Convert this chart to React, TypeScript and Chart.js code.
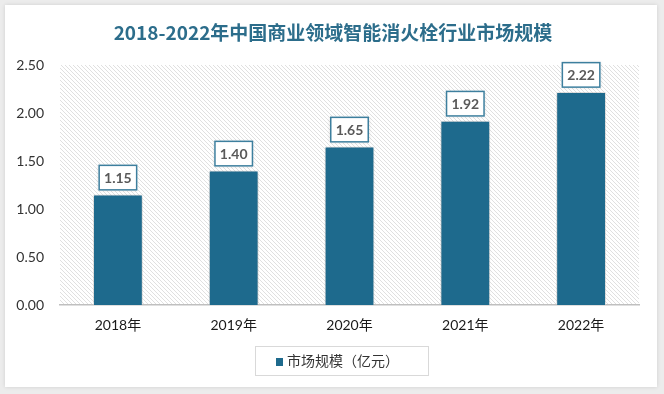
import React, { useEffect, useRef } from "react";
import { Chart, registerables } from "chart.js";

Chart.register(...registerables);

const categories = ["2018年", "2019年", "2020年", "2021年", "2022年"];
const marketSize = [1.15, 1.4, 1.65, 1.92, 2.22];
const yTicks = [0, 0.5, 1, 1.5, 2, 2.5];
const titleText = "2018-2022年中国商业领域智能消火栓行业市场规模";
const seriesName = "市场规模（亿元）";

const BAR_COLOR = "#1e6a8d";
const LATIN = "Lato, 'Noto Sans CJK SC', sans-serif";
const CJK = "'Noto Sans CJK SC', sans-serif";

function makePattern(ctx: CanvasRenderingContext2D) {
  const c = document.createElement("canvas");
  c.width = 4;
  c.height = 4;
  const p = c.getContext("2d")!;
  p.fillStyle = "#ffffff";
  p.fillRect(0, 0, 4, 4);
  p.fillStyle = "#e0e0e0";
  for (let i = 0; i < 4; i++) p.fillRect(i, i, 1, 1);
  return ctx.createPattern(c, "repeat");
}

const decorPlugin = {
  id: "decor",
  beforeDraw(chart: any) {
    const { ctx, chartArea } = chart;
    ctx.save();
    const pat = makePattern(ctx);
    if (pat) ctx.fillStyle = pat;
    ctx.fillRect(chartArea.left, chartArea.top, chartArea.right - chartArea.left, chartArea.bottom - chartArea.top);
    ctx.restore();
    // title
    ctx.save();
    ctx.font = `bold 19px ${CJK}`;
    ctx.fillStyle = "#2c6d8b";
    ctx.textAlign = "center";
    ctx.textBaseline = "middle";
    ctx.fillText(titleText, 333, 33);
    ctx.restore();
  },
  beforeDatasetsDraw(chart: any) {
    const ctx = chart.ctx;
    ctx.save();
    ctx.shadowColor = "rgba(0,0,0,0.28)";
    ctx.shadowBlur = 4;
    ctx.shadowOffsetX = 0;
    ctx.shadowOffsetY = 0;
  },
  afterDatasetsDraw(chart: any) {
    const ctx = chart.ctx;
    ctx.restore();
    const meta = chart.getDatasetMeta(0);
    const data = chart.data.datasets[0].data;
    meta.data.forEach((bar: any, i: number) => {
      const w = 39;
      const h = 26;
      const x = bar.x - w / 2;
      const y = bar.y - 4 - h;
      ctx.save();
      ctx.shadowColor = "rgba(0,0,0,0.15)";
      ctx.shadowBlur = 3;
      ctx.fillStyle = "#ffffff";
      ctx.fillRect(x, y, w, h);
      ctx.shadowColor = "transparent";
      ctx.strokeStyle = "#3d7f9e";
      ctx.lineWidth = 1.5;
      ctx.strokeRect(x + 0.75, y + 0.75, w - 1.5, h - 1.5);
      ctx.fillStyle = "#595959";
      ctx.font = `bold 14px ${LATIN}`;
      ctx.textAlign = "center";
      ctx.textBaseline = "middle";
      ctx.fillText(Number(data[i]).toFixed(2), bar.x, y + h / 2 + 1);
      ctx.restore();
    });
  },
  afterDraw(chart: any) {
    const ctx = chart.ctx;
    ctx.save();
    // legend box
    ctx.fillStyle = "#ffffff";
    ctx.fillRect(255, 346, 174, 30);
    ctx.strokeStyle = "#d9d9d9";
    ctx.lineWidth = 1;
    ctx.strokeRect(255.5, 346.5, 173, 29);
    ctx.fillStyle = BAR_COLOR;
    ctx.fillRect(276, 358, 7, 8);
    ctx.fillStyle = "#333333";
    ctx.font = `14px ${CJK}`;
    ctx.textAlign = "left";
    ctx.textBaseline = "middle";
    ctx.fillText(seriesName, 287, 361);
    ctx.restore();
  },
};

export default function App() {
  const ref = useRef<HTMLCanvasElement | null>(null);
  useEffect(() => {
    document.body.style.margin = "0";
    const chart = new Chart(ref.current!, {
      type: "bar",
      data: {
        labels: categories,
        datasets: [
          {
            label: seriesName,
            data: marketSize,
            backgroundColor: BAR_COLOR,
            borderColor: "rgba(255,255,255,0.35)",
            borderWidth: 1,
            barPercentage: 0.43,
            categoryPercentage: 1,
          },
        ],
      },
      options: {
        responsive: false,
        animation: false,
        layout: { padding: { top: 65, right: 25, left: 0, bottom: 0 } },
        plugins: {
          legend: { display: false },
          title: { display: false },
          tooltip: { enabled: false },
        },
        scales: {
          x: {
            grid: { display: false, drawTicks: false },
            border: { display: true, color: "#bfbfbf", width: 1.5 },
            ticks: {
              padding: 12,
              color: "#1a1a1a",
              font: { size: 14, family: LATIN },
            },
            afterFit(scale: any) {
              scale.height = 89;
            },
          },
          y: {
            min: 0,
            max: 2.5,
            afterBuildTicks(scale: any) {
              scale.ticks = yTicks.map((v) => ({ value: v }));
            },
            grid: { display: false, drawTicks: false },
            border: { display: false },
            ticks: {
              padding: 16,
              color: "#333333",
              font: { size: 14, family: LATIN },
              callback: (v: any) => Number(v).toFixed(2),
            },
            afterFit(scale: any) {
              scale.width = 60;
            },
          },
        },
      },
      plugins: [decorPlugin],
    });
    return () => chart.destroy();
  }, []);

  return (
    <div style={{ position: "relative", width: 664, height: 394, background: "#ececec", overflow: "hidden" }}>
      <div
        style={{
          position: "absolute",
          left: 5,
          top: 5,
          width: 652,
          height: 382,
          background: "#ffffff",
          boxShadow: "0 0 4px rgba(0,0,0,0.12)",
        }}
      />
      <canvas ref={ref} width={664} height={394} style={{ position: "absolute", left: 0, top: 0, width: 664, height: 394 }} />
    </div>
  );
}
